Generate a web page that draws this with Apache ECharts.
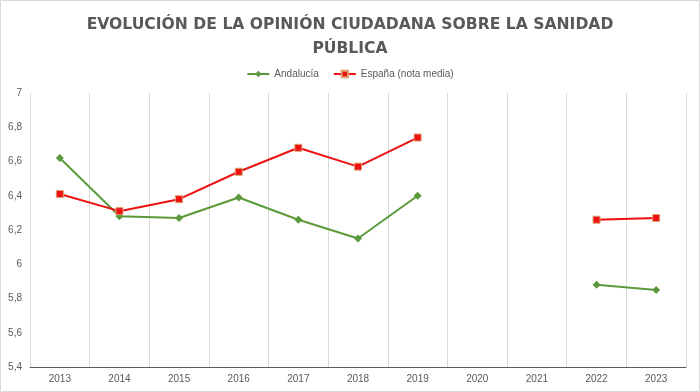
<!DOCTYPE html>
<html>
<head>
<meta charset="utf-8">
<script src="https://cdn.jsdelivr.net/npm/echarts@6/dist/echarts.min.js"></script>
<style>html,body{margin:0;padding:0;background:#fff}#c{width:700px;height:392px}</style>
</head>
<body>
<div id="c"></div>
<script>
const categories = ['2013','2014','2015','2016','2017','2018','2019','2020','2021','2022','2023'];
const andalucia = [6.62, 6.28, 6.27, 6.39, 6.26, 6.15, 6.40, null, null, 5.88, 5.85];
const espana = [6.41, 6.31, 6.38, 6.54, 6.68, 6.57, 6.74, null, null, 6.26, 6.27];
const yTicks = {min: 5.4, max: 7, interval: 0.2};

const chart = echarts.init(document.getElementById('c'));
chart.setOption({
  animation: false,
  backgroundColor: '#fff',
  title: {
    text: 'EVOLUCIÓN DE LA OPINIÓN CIUDADANA SOBRE LA SANIDAD\nPÚBLICA',
    left: 'center', top: 8,
    textStyle: {fontFamily: 'DejaVu Sans', fontWeight: 'bold', fontSize: 15.6, color: '#595959', lineHeight: 24}
  },
  legend: {
    top: 64, left: 'center', itemWidth: 22, itemHeight: 8, itemGap: 14,
    textStyle: {fontFamily: 'Liberation Sans', fontSize: 10, color: '#595959'},
    data: ['Andalucía', 'España (nota media)']
  },
  grid: {left: 30, right: 14, top: 93, bottom: 25},
  xAxis: {
    type: 'category', data: categories, boundaryGap: true,
    axisLine: {lineStyle: {color: '#595959', width: 1}},
    axisTick: {show: false},
    axisLabel: {color: '#595959', fontSize: 10, fontFamily: 'Liberation Sans', margin: 7},
    splitLine: {show: true, lineStyle: {color: '#d9d9d9'}}
  },
  yAxis: {
    type: 'value', min: yTicks.min, max: yTicks.max, interval: yTicks.interval,
    axisLine: {show: false}, axisTick: {show: false},
    splitLine: {show: false},
    axisLabel: {color: '#595959', fontSize: 10, fontFamily: 'Liberation Sans', margin: 8,
      formatter: v => String(Math.round(v*10)/10).replace('.', ',')}
  },
  series: [
    {name: 'Andalucía', type: 'line', data: andalucia, connectNulls: false,
     symbol: 'diamond', symbolSize: 8,
     lineStyle: {color: '#5b9a3a', width: 2},
     itemStyle: {color: '#5b9a3a'}},
    {name: 'España (nota media)', type: 'line', data: espana, connectNulls: false,
     symbol: 'rect', symbolSize: 7,
     lineStyle: {color: '#ee1111', width: 2},
     itemStyle: {color: '#ee1111', borderColor: '#d9a070', borderWidth: 1}}
  ],
  graphic: [{type: 'rect', shape: {x: 0.5, y: 0.5, width: 699, height: 391}, style: {fill: null, stroke: '#d9d9d9', lineWidth: 1}, silent: true, z: -1}]
});
</script>
</body>
</html>
